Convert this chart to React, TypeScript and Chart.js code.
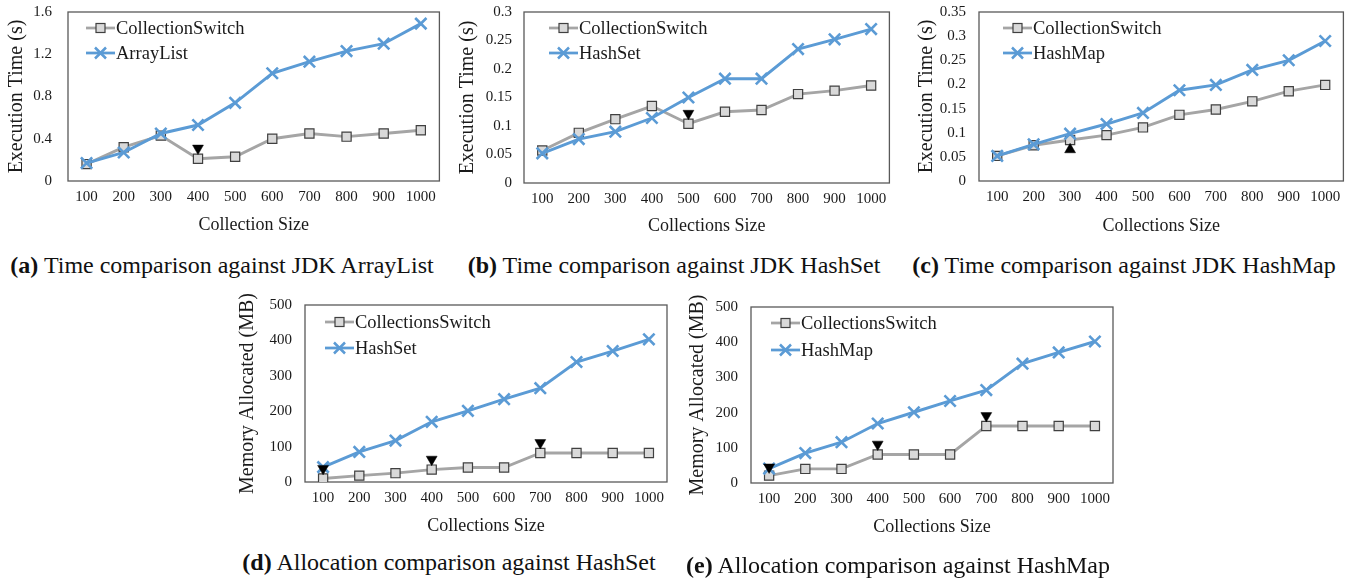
import React, { useEffect, useRef } from "react";
import { Chart, registerables } from "chart.js";

Chart.register(...registerables);

const FONT = "'Liberation Serif', 'Times New Roman', serif";

// ---- data ----
const sizes = ["100", "200", "300", "400", "500", "600", "700", "800", "900", "1000"];

const aSwitch = [0.16, 0.32, 0.43, 0.21, 0.23, 0.4, 0.45, 0.42, 0.45, 0.48];
const aArrayList = [0.17, 0.27, 0.45, 0.53, 0.74, 1.02, 1.13, 1.23, 1.3, 1.49];
const aMarks = [null, null, null, 0.31, null, null, null, null, null, null];

const bSwitch = [0.057, 0.088, 0.112, 0.135, 0.104, 0.125, 0.128, 0.156, 0.162, 0.171];
const bHashSet = [0.052, 0.077, 0.09, 0.114, 0.15, 0.183, 0.183, 0.235, 0.252, 0.27];
const bMarks = [null, null, null, null, 0.122, null, null, null, null, null];

const cSwitch = [0.052, 0.074, 0.085, 0.095, 0.111, 0.137, 0.148, 0.165, 0.186, 0.199];
const cHashMap = [0.052, 0.076, 0.098, 0.118, 0.141, 0.188, 0.199, 0.23, 0.25, 0.29];
const cMarks = [null, null, 0.065, null, null, null, null, null, null, null];

const dSwitch = [10, 18, 25, 35, 41, 41, 82, 82, 82, 82];
const dHashSet = [42, 85, 117, 170, 201, 234, 265, 339, 370, 403];
const dMarks = [38, null, null, 64, null, null, 111, null, null, null];

const eSwitch = [21, 40, 40, 81, 81, 81, 162, 162, 162, 162];
const eHashMap = [41, 85, 116, 169, 201, 233, 264, 339, 371, 402];
const eMarks = [45, null, null, 110, null, null, 191, null, null, null];

const captionTags = ["(a)", "(b)", "(c)", "(d)", "(e)"];
const captionTexts = [
  "Time comparison against JDK ArrayList",
  "Time comparison against JDK HashSet",
  "Time comparison against JDK HashMap",
  "Allocation comparison against HashSet",
  "Allocation comparison against HashMap",
];

// ---- styles ----
const GRAY_LINE = "#a5a5a5";
const SQUARE_FILL = "#d9d9d9";
const SQUARE_EDGE = "#404040";
const BLUE = "#5b9bd5";
const AXIS = "#595959";
const TEXT = "#1a1a1a";

type Spec = {
  left: number; top: number; width: number; height: number;
  yWidth: number; xHeight: number; padRight: number; padTop: number;
  yTitlePad: number; xTitlePad: number; yTickPad: number; xTickPad: number;
  yMax: number; yStep: number;
  yTitle: string; xTitle: string;
  switchLabel: string; baseLabel: string;
  switchData: number[]; baseData: number[]; marks: (number | null)[]; markUp: boolean;
  legendX: number; legendY1: number; legendY2: number;
};

const specs: Spec[] = [
  {
    left: 0, top: 0, width: 450, height: 240,
    yWidth: 68, xHeight: 59, padRight: 7, padTop: 12,
    yTitlePad: 5, xTitlePad: 4, yTickPad: 16, xTickPad: 7,
    yMax: 1.6, yStep: 0.4,
    yTitle: "Execution Time (s)", xTitle: "Collection Size",
    switchLabel: "CollectionSwitch", baseLabel: "ArrayList",
    switchData: aSwitch, baseData: aArrayList, marks: aMarks, markUp: false,
    legendX: 18, legendY1: 16, legendY2: 41,
  },
  {
    left: 450, top: 0, width: 450, height: 240,
    yWidth: 74, xHeight: 57, padRight: 7, padTop: 12,
    yTitlePad: 6, xTitlePad: 3, yTickPad: 12, xTickPad: 7,
    yMax: 0.3, yStep: 0.05,
    yTitle: "Execution Time (s)", xTitle: "Collections Size",
    switchLabel: "CollectionSwitch", baseLabel: "HashSet",
    switchData: bSwitch, baseData: bHashSet, marks: bMarks, markUp: false,
    legendX: 25, legendY1: 16, legendY2: 41,
  },
  {
    left: 900, top: 0, width: 454, height: 240,
    yWidth: 79, xHeight: 59, padRight: 10, padTop: 12,
    yTitlePad: 15, xTitlePad: 3, yTickPad: 13, xTickPad: 7,
    yMax: 0.35, yStep: 0.05,
    yTitle: "Execution Time (s)", xTitle: "Collections Size",
    switchLabel: "CollectionSwitch", baseLabel: "HashMap",
    switchData: cSwitch, baseData: cHashMap, marks: cMarks, markUp: true,
    legendX: 24, legendY1: 16, legendY2: 41,
  },
  {
    left: 220, top: 290, width: 460, height: 250,
    yWidth: 85, xHeight: 58, padRight: 13, padTop: 15,
    yTitlePad: 16, xTitlePad: 3, yTickPad: 13, xTickPad: 7,
    yMax: 500, yStep: 100,
    yTitle: "Memory Allocated (MB)", xTitle: "Collections Size",
    switchLabel: "CollectionsSwitch", baseLabel: "HashSet",
    switchData: dSwitch, baseData: dHashSet, marks: dMarks, markUp: false,
    legendX: 20, legendY1: 17, legendY2: 43,
  },
  {
    left: 670, top: 290, width: 460, height: 250,
    yWidth: 81, xHeight: 57, padRight: 17, padTop: 17,
    yTitlePad: 16, xTitlePad: 2, yTickPad: 13, xTickPad: 7,
    yMax: 500, yStep: 100,
    yTitle: "Memory Allocated (MB)", xTitle: "Collections Size",
    switchLabel: "CollectionsSwitch", baseLabel: "HashMap",
    switchData: eSwitch, baseData: eHashMap, marks: eMarks, markUp: false,
    legendX: 20, legendY1: 16, legendY2: 43,
  },
];

const captions = [
  { x: 222, y: 265 },
  { x: 674, y: 265 },
  { x: 1124, y: 265 },
  { x: 449, y: 562 },
  { x: 898, y: 565 },
];

const framePlugin = {
  id: "frame",
  beforeDatasetsDraw(chart: any) {
    const { ctx, chartArea } = chart;
    ctx.save();
    ctx.strokeStyle = AXIS;
    ctx.lineWidth = 1.3;
    ctx.strokeRect(chartArea.left, chartArea.top, chartArea.right - chartArea.left, chartArea.bottom - chartArea.top);
    ctx.restore();
  },
};

const innerLegendPlugin = {
  id: "innerLegend",
  afterDatasetsDraw(chart: any, _args: any, opts: any) {
    const { ctx, chartArea } = chart;
    const x0 = chartArea.left + opts.x;
    const rows = [
      { y: chartArea.top + opts.y1, label: opts.switchLabel, kind: "square" },
      { y: chartArea.top + opts.y2, label: opts.baseLabel, kind: "cross" },
    ];
    ctx.save();
    for (const r of rows) {
      const cx = x0 + 14.5;
      ctx.lineWidth = 2.75;
      ctx.strokeStyle = r.kind === "square" ? GRAY_LINE : BLUE;
      ctx.beginPath();
      ctx.moveTo(x0, r.y);
      ctx.lineTo(x0 + 29, r.y);
      ctx.stroke();
      if (r.kind === "square") {
        ctx.fillStyle = SQUARE_FILL;
        ctx.strokeStyle = SQUARE_EDGE;
        ctx.lineWidth = 1.2;
        ctx.fillRect(cx - 4.5, r.y - 4.5, 9, 9);
        ctx.strokeRect(cx - 4.5, r.y - 4.5, 9, 9);
      } else {
        ctx.strokeStyle = BLUE;
        ctx.lineWidth = 2.5;
        ctx.beginPath();
        ctx.moveTo(cx - 5.5, r.y - 5.5);
        ctx.lineTo(cx + 5.5, r.y + 5.5);
        ctx.moveTo(cx + 5.5, r.y - 5.5);
        ctx.lineTo(cx - 5.5, r.y + 5.5);
        ctx.stroke();
      }
      ctx.fillStyle = TEXT;
      ctx.font = `18.5px ${FONT}`;
      ctx.textBaseline = "middle";
      ctx.textAlign = "left";
      ctx.fillText(r.label, x0 + 30, r.y + 1);
    }
    ctx.restore();
  },
};

const fmtTick = (v: any) => String(parseFloat(Number(v).toFixed(3)));

function Panel({ spec }: { spec: Spec }) {
  const ref = useRef<HTMLCanvasElement | null>(null);
  useEffect(() => {
    if (!ref.current) return;
    const chart = new Chart(ref.current, {
      type: "line",
      data: {
        labels: sizes,
        datasets: [
          {
            label: "marks",
            data: spec.marks,
            showLine: false,
            pointStyle: "triangle",
            rotation: spec.markUp ? 0 : 180,
            pointRadius: 6.3,
            pointBackgroundColor: "#000",
            pointBorderColor: "#000",
            pointBorderWidth: 0.5,
            order: 0,
          } as any,
          {
            label: spec.baseLabel,
            data: spec.baseData,
            borderColor: BLUE,
            borderWidth: 2.9,
            pointStyle: "crossRot",
            pointRadius: 8,
            pointBorderWidth: 2.6,
            pointBorderColor: BLUE,
            tension: 0,
            order: 1,
          },
          {
            label: spec.switchLabel,
            data: spec.switchData,
            borderColor: GRAY_LINE,
            borderWidth: 2.9,
            pointStyle: "rect",
            pointRadius: 6.5,
            pointBackgroundColor: SQUARE_FILL,
            pointBorderColor: SQUARE_EDGE,
            pointBorderWidth: 1.2,
            tension: 0,
            order: 2,
          },
        ],
      },
      options: {
        animation: false,
        responsive: false,
        events: [],
        layout: { padding: { left: 0, top: spec.padTop, right: spec.padRight, bottom: 0 } },
        plugins: {
          legend: { display: false },
          tooltip: { enabled: false },
          innerLegend: {
            x: spec.legendX,
            y1: spec.legendY1,
            y2: spec.legendY2,
            switchLabel: spec.switchLabel,
            baseLabel: spec.baseLabel,
          },
        } as any,
        scales: {
          x: {
            offset: true,
            grid: { display: false, drawTicks: false },
            border: { display: false },
            ticks: { color: TEXT, font: { family: FONT, size: 15 }, padding: spec.xTickPad, maxRotation: 0, autoSkip: false },
            title: { display: true, text: spec.xTitle, color: TEXT, font: { family: FONT, size: 18 }, padding: { top: 0, bottom: spec.xTitlePad } },
            afterFit: (s: any) => { s.height = spec.xHeight; },
          },
          y: {
            min: 0,
            max: spec.yMax,
            grid: { display: false, drawTicks: true, tickLength: spec.yTickPad },
            border: { display: false },
            ticks: { stepSize: spec.yStep, color: TEXT, font: { family: FONT, size: 15 }, padding: 0, callback: fmtTick },
            title: { display: true, text: spec.yTitle, color: TEXT, font: { family: FONT, size: 20 }, padding: { top: spec.yTitlePad, bottom: 0 } },
            afterFit: (s: any) => { s.width = spec.yWidth; },
          },
        },
      },
      plugins: [framePlugin, innerLegendPlugin],
    });
    return () => chart.destroy();
  }, [spec]);
  return (
    <canvas
      ref={ref}
      width={spec.width}
      height={spec.height}
      style={{ position: "absolute", left: spec.left, top: spec.top, width: spec.width, height: spec.height }}
    />
  );
}

export default function App() {
  return (
    <div style={{ position: "fixed", left: 0, top: 0, width: 1354, height: 579, background: "#fff", overflow: "hidden" }}>
      {specs.map((s, i) => (
        <Panel key={i} spec={s} />
      ))}
      {captions.map((c, i) => (
        <div
          key={"cap" + i}
          style={{
            position: "absolute",
            left: c.x,
            top: c.y,
            transform: "translate(-50%, -50%)",
            whiteSpace: "nowrap",
            fontFamily: FONT,
            fontSize: 24,
            color: "#111",
            lineHeight: 1,
          }}
        >
          <b>{captionTags[i]}</b> {captionTexts[i]}
        </div>
      ))}
    </div>
  );
}
